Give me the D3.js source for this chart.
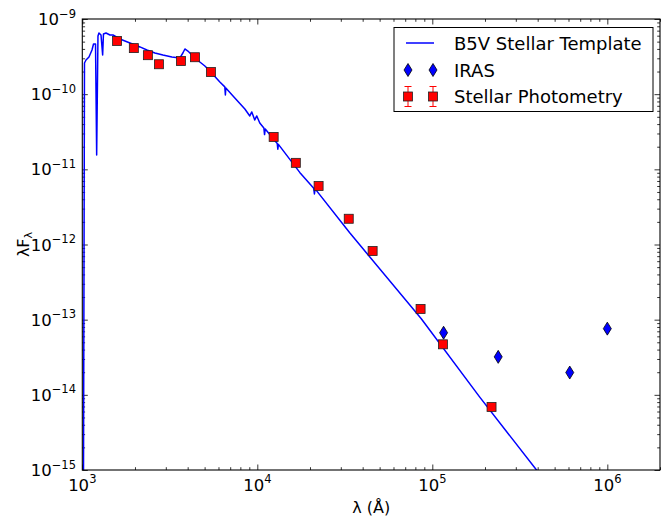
<!DOCTYPE html>
<html>
<head>
<meta charset="utf-8">
<script src="https://cdn.jsdelivr.net/npm/d3@7"></script>
<style>
  body { margin: 0; background: #fff; }
  text { font-family: "DejaVu Sans", sans-serif; }
</style>
</head>
<body>
<div id="chart"></div>
<script>
// SED plot: template spectrum + photometry + IRAS points

// B5V template (wavelength in Angstrom, lambda*F_lambda)
var lamTpl = [1.016e3, 1.029e3, 1.050e3, 1.092e3, 1.136e3, 1.159e3, 1.190e3, 1.208e3, 1.229e3, 1.245e3,
  1.279e3, 1.307e3, 1.321e3, 1.366e3, 1.439e3, 1.497e3, 1.641e3, 1.872e3, 2.135e3, 2.340e3,
  2.60e3, 2.888e3, 3.25e3, 3.612e3, 3.756e3, 3.857e3, 4.012e3, 4.173e3, 4.398e3, 4.697e3,
  5.016e3, 5.357e3, 6.11e3, 6.52e3, 6.57e3, 6.61e3, 7.44e3, 8.49e3, 9.06e3, 9.30e3,
  9.67e3, 9.93e3, 1.033e4, 1.09e4, 1.10e4, 1.11e4, 1.30e4, 1.31e4, 1.32e4, 1.748e4,
  2.10e4, 2.12e4, 2.14e4, 3.373e4, 8.65e4, 1.862e5, 3.94e5, 5.33e5];
var fluxTpl = [8.6e-16, 2.60e-10, 2.85e-10, 3.12e-10, 3.87e-10, 4.65e-10, 4.65e-10, 1.55e-11, 5.94e-10, 6.52e-10,
  6.13e-10, 3.32e-10, 6.32e-10, 6.52e-10, 6.13e-10, 6.13e-10, 5.42e-10, 4.80e-10, 4.25e-10, 3.87e-10,
  3.53e-10, 3.32e-10, 3.12e-10, 3.03e-10, 3.53e-10, 3.99e-10, 3.75e-10, 3.43e-10, 3.12e-10, 2.68e-10,
  2.37e-10, 2.04e-10, 1.45e-10, 1.25e-10, 9.75e-11, 1.21e-10, 8.9e-11, 6.35e-11, 5.13e-11, 5.8e-11,
  4.54e-11, 5.13e-11, 4.14e-11, 3.55e-11, 2.9e-11, 3.45e-11, 2.2e-11, 1.85e-11, 2.15e-11, 9.1e-12,
  5.6e-12, 4.7e-12, 5.5e-12, 1.43e-12, 1.03e-13, 9.4e-15, 1.0e-15, 4.0e-16];

// stellar photometry
var lamPhot = [1.58e3, 1.97e3, 2.37e3, 2.74e3, 3.66e3, 4.4e3, 5.43e3, 1.24e4, 1.66e4, 2.24e4, 3.33e4, 4.56e4, 8.57e4, 1.15e5, 2.18e5];
var fluxPhot = [5.1e-10, 4.1e-10, 3.3e-10, 2.5e-10, 2.76e-10, 3.1e-10, 1.97e-10, 2.7e-11, 1.22e-11, 6.0e-12, 2.2e-12, 8.2e-13, 1.39e-13, 4.7e-14, 6.9e-15];

// IRAS
var lamIras = [1.16e5, 2.38e5, 6.1e5, 1.0e6];
var fluxIras = [6.7e-14, 3.2e-14, 1.98e-14, 7.6e-14];

var xTickExp = [3, 4, 5, 6];
var yTickExp = [-9, -10, -11, -12, -13, -14, -15];
var legendLabels = ["B5V Stellar Template", "IRAS", "Stellar Photometry"];

var width = 670, height = 518;
var mLeft = 82.3, mRight = 660, mTop = 19, mBottom = 470;

var svg = d3.select("#chart").append("svg")
  .attr("width", width)
  .attr("height", height);

var x = d3.scaleLog().domain([1e3, 2e6]).range([mLeft, mRight]);
var y = d3.scaleLog().domain([1e-15, 1e-9]).range([mBottom, mTop]);

svg.append("clipPath").attr("id", "clip")
  .append("rect")
  .attr("x", mLeft).attr("y", mTop)
  .attr("width", mRight - mLeft).attr("height", mBottom - mTop);

// minor tick values
var xMinor = [], yMinor = [];
for (var e = 3; e <= 6; e++) for (var m = 2; m <= 9; m++) if (m * Math.pow(10, e) <= 2e6) xMinor.push(m * Math.pow(10, e));
for (var e2 = -15; e2 < -9; e2++) for (var m2 = 2; m2 <= 9; m2++) yMinor.push(m2 * Math.pow(10, e2));
var xMajor = xTickExp.map(function (d) { return Math.pow(10, d); });
var yMajor = yTickExp.map(function (d) { return Math.pow(10, d); });

function drawAxis(axisFn, scale, vals, size, transform) {
  var g = svg.append("g")
    .attr("transform", transform)
    .call(axisFn(scale).tickValues(vals).tickSize(-size).tickFormat(""));
  g.select(".domain").remove();
  g.selectAll(".tick line").attr("stroke", "#000").attr("stroke-width", 0.8);
}

[[xMajor, 5.5], [xMinor, 2.8]].forEach(function (t) {
  drawAxis(d3.axisBottom, x, t[0], t[1], "translate(0," + mBottom + ")");
  drawAxis(d3.axisTop, x, t[0], t[1], "translate(0," + mTop + ")");
});
[[yMajor, 5.5], [yMinor, 2.8]].forEach(function (t) {
  drawAxis(d3.axisLeft, y, t[0], t[1], "translate(" + mLeft + ",0)");
  drawAxis(d3.axisRight, y, t[0], t[1], "translate(" + mRight + ",0)");
});

// tick labels with superscripts
xTickExp.forEach(function (p) {
  var t = svg.append("text")
    .attr("x", x(Math.pow(10, p)))
    .attr("y", 491)
    .attr("text-anchor", "middle")
    .attr("font-size", 16.5);
  t.append("tspan").text("10");
  t.append("tspan").attr("font-size", 11.5).attr("dy", -8.5).text(p);
});
yTickExp.forEach(function (p) {
  var t = svg.append("text")
    .attr("x", 76)
    .attr("y", y(Math.pow(10, p)) + 6)
    .attr("text-anchor", "end")
    .attr("font-size", 16.5);
  t.append("tspan").text("10");
  t.append("tspan").attr("font-size", 11.5).attr("dy", -7.5).text("\u2212" + (-p));
});

// template line
var line = d3.line()
  .x(function (d) { return x(d[0]); })
  .y(function (d) { return y(d[1]); });

svg.append("path")
  .datum(d3.zip(lamTpl, fluxTpl))
  .attr("clip-path", "url(#clip)")
  .attr("d", line)
  .attr("fill", "none")
  .attr("stroke", "#0000ff")
  .attr("stroke-width", 1.5)
  .attr("stroke-linejoin", "round");

function diamond(cx, cy) {
  return "M" + cx + "," + (cy - 6.5) + "L" + (cx + 4) + "," + cy + "L" + cx + "," + (cy + 6.5) + "L" + (cx - 4) + "," + cy + "Z";
}

svg.append("g").selectAll("path")
  .data(d3.zip(lamIras, fluxIras))
  .enter().append("path")
  .attr("d", function (d) { return diamond(x(d[0]), y(d[1])); })
  .attr("fill", "#0000ff")
  .attr("stroke", "#000")
  .attr("stroke-width", 0.8);

svg.append("g").selectAll("rect")
  .data(d3.zip(lamPhot, fluxPhot))
  .enter().append("rect")
  .attr("x", function (d) { return x(d[0]) - 4.5; })
  .attr("y", function (d) { return y(d[1]) - 4.5; })
  .attr("width", 9).attr("height", 9)
  .attr("fill", "#ff0000")
  .attr("stroke", "#222")
  .attr("stroke-width", 0.8);

// frame
svg.append("rect")
  .attr("x", mLeft).attr("y", mTop)
  .attr("width", mRight - mLeft).attr("height", mBottom - mTop)
  .attr("fill", "none").attr("stroke", "#000").attr("stroke-width", 1.1);

// axis labels
svg.append("text")
  .attr("x", (mLeft + mRight) / 2).attr("y", 513)
  .attr("text-anchor", "middle").attr("font-size", 16)
  .text("\u03bb (\u00c5)");

var yl = svg.append("text")
  .attr("transform", "translate(29," + ((mTop + mBottom) / 2) + ") rotate(-90)")
  .attr("text-anchor", "middle").attr("font-size", 16);
yl.append("tspan").text("\u03bbF");
yl.append("tspan").attr("font-size", 11).attr("dy", 3).text("\u03bb");

// legend
var lg = svg.append("g");
lg.append("rect")
  .attr("x", 394).attr("y", 27.5).attr("width", 259).attr("height", 84)
  .attr("fill", "#fff").attr("stroke", "#000").attr("stroke-width", 1);
var rowY = [43, 70, 96.5];
lg.append("line")
  .attr("x1", 406).attr("x2", 434).attr("y1", rowY[0]).attr("y2", rowY[0])
  .attr("stroke", "#0000ff").attr("stroke-width", 1.5);
[408, 433].forEach(function (cx) {
  lg.append("path").attr("d", diamond(cx, rowY[1]))
    .attr("fill", "#0000ff").attr("stroke", "#000").attr("stroke-width", 0.8);
  lg.append("line").attr("x1", cx).attr("x2", cx).attr("y1", rowY[2] - 10).attr("y2", rowY[2] + 10)
    .attr("stroke", "#ff0000").attr("stroke-width", 1);
  [rowY[2] - 10, rowY[2] + 10].forEach(function (cy) {
    lg.append("line").attr("x1", cx - 3.5).attr("x2", cx + 3.5).attr("y1", cy).attr("y2", cy)
      .attr("stroke", "#ff0000").attr("stroke-width", 1);
  });
  lg.append("rect").attr("x", cx - 4.5).attr("y", rowY[2] - 4.5).attr("width", 9).attr("height", 9)
    .attr("fill", "#ff0000").attr("stroke", "#222").attr("stroke-width", 0.8);
});
legendLabels.forEach(function (s, i) {
  lg.append("text")
    .attr("x", 454).attr("y", rowY[i] + 6.5)
    .attr("font-size", 18)
    .text(s);
});
</script>
</body>
</html>
